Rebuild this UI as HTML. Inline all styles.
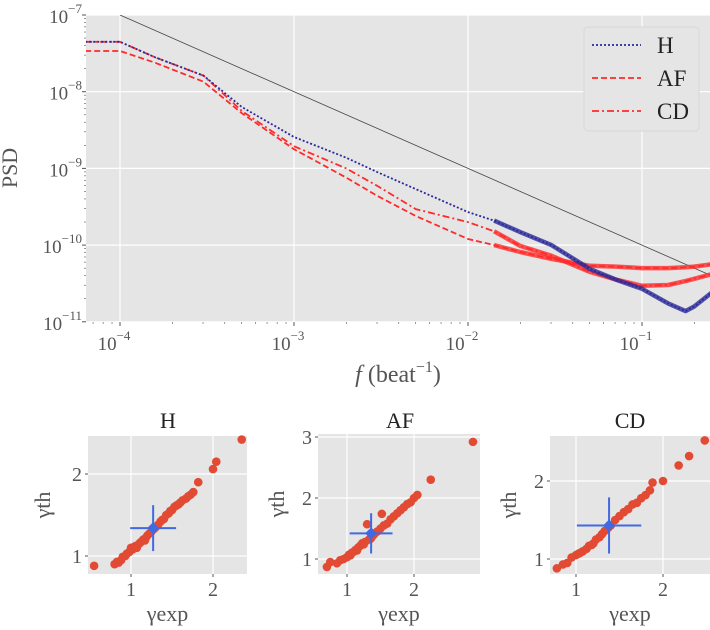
<!DOCTYPE html>
<html><head><meta charset="utf-8">
<style>
html,body{margin:0;padding:0;background:#fff;}
svg{display:block;font-family:"Liberation Serif",serif;}
</style></head>
<body>
<svg id="fig" width="710" height="630" viewBox="0 0 710 630" xmlns="http://www.w3.org/2000/svg"></svg>
<script>
// ---------- PSD data (log10 values) ----------
const freqLog = [-4.2,-4.0,-3.8,-3.52,-3.3,-3.0,-2.7,-2.52,-2.3,-2.0,-1.85,-1.7,-1.52,-1.3,-1.15,-1.0,-0.85,-0.75,-0.7,-0.6];
const psdH  = [-7.35,-7.35,-7.55,-7.79,-8.2,-8.59,-8.86,-9.05,-9.27,-9.57,-9.68,-9.83,-10.0,-10.31,-10.45,-10.57,-10.76,-10.86,-10.8,-10.62];
const psdAF = [-7.47,-7.47,-7.62,-7.87,-8.28,-8.75,-9.12,-9.36,-9.62,-9.92,-10.0,-10.09,-10.18,-10.27,-10.28,-10.3,-10.3,-10.29,-10.28,-10.25];
const psdCD = [-7.35,-7.35,-7.55,-7.79,-8.25,-8.71,-9.0,-9.23,-9.53,-9.70,-9.82,-10.01,-10.14,-10.35,-10.45,-10.53,-10.52,-10.47,-10.44,-10.38];
const refLineF = [-4.0,-0.6];
const refLineP = [-7.0,-10.4];
const yTickExp = [-7,-8,-9,-10,-11];
const xTickExp = [-4,-3,-2,-1];
const legendLabels = ['H','AF','CD'];

// ---------- scatter data ----------
const hX = [0.55,0.8,0.83,0.85,0.88,0.9,0.93,0.95,0.98,1.0,1.02,1.05,1.07,1.08,1.1,1.12,1.15,1.17,1.18,1.2,1.22,1.25,1.28,1.3,1.33,1.36,1.38,1.4,1.43,1.46,1.48,1.5,1.53,1.56,1.58,1.6,1.63,1.67,1.7,1.73,1.76,1.82,2.0,2.04,2.35];
const hY = [0.88,0.9,0.93,0.92,0.95,0.99,1.0,1.03,1.05,1.1,1.08,1.12,1.1,1.13,1.15,1.17,1.2,1.19,1.22,1.25,1.27,1.3,1.33,1.35,1.38,1.42,1.44,1.45,1.5,1.52,1.55,1.56,1.6,1.62,1.63,1.65,1.68,1.7,1.73,1.75,1.78,1.9,2.06,2.15,2.42];
const afX = [0.7,0.75,0.85,0.9,0.95,1.0,1.03,1.05,1.07,1.1,1.13,1.15,1.17,1.2,1.23,1.25,1.27,1.3,1.33,1.35,1.37,1.4,1.45,1.5,1.52,1.55,1.6,1.65,1.7,1.75,1.8,1.85,1.9,1.95,2.0,2.05,2.25,2.88];
const afY = [0.87,0.95,0.93,0.98,1.0,1.03,1.07,1.06,1.1,1.12,1.15,1.14,1.19,1.22,1.26,1.24,1.28,1.57,1.32,1.33,1.36,1.4,1.45,1.5,1.74,1.55,1.58,1.65,1.7,1.75,1.8,1.85,1.9,1.93,2.0,2.05,2.3,2.92];
const cdX = [0.78,0.85,0.9,0.95,1.0,1.03,1.05,1.08,1.12,1.15,1.18,1.2,1.23,1.27,1.3,1.33,1.37,1.4,1.45,1.5,1.55,1.6,1.65,1.7,1.75,1.8,1.85,1.88,2.0,2.18,2.3,2.48];
const cdY = [0.88,0.93,0.95,1.02,1.05,1.07,1.08,1.1,1.13,1.17,1.18,1.2,1.25,1.28,1.32,1.36,1.4,1.43,1.5,1.55,1.6,1.64,1.7,1.72,1.78,1.82,1.88,1.98,2.0,2.2,2.32,2.52];
const meanX = [1.27,1.36,1.38];
const meanY = [1.34,1.42,1.43];
const errX = [0.28,0.32,0.37];
const errY = [0.28,0.33,0.36];
const panelTitles = ['H','AF','CD'];

const NS='http://www.w3.org/2000/svg';
const svg=document.getElementById('fig');
function mk(tag,attrs,parent){const e=document.createElementNS(NS,tag);for(const k in attrs)e.setAttribute(k,attrs[k]);(parent||svg).appendChild(e);return e;}

// ---------- main plot ----------
const AX={l:86,r:710,t:15,b:322};
const xLog=v=>120+(v+4)*174;
const yLog=v=>15+(-7-v)*76.7;
const mainG=mk('g',{});


const bg=mk('rect',{x:AX.l,y:AX.t,width:AX.r-AX.l,height:AX.b-AX.t,fill:'#e5e5e5'},mainG);


const clip=mk('clipPath',{id:'mc'},mainG);
mk('rect',{x:AX.l,y:AX.t,width:AX.r-AX.l,height:AX.b-AX.t},clip);
yTickExp.forEach(e=>{
  const y=yLog(e);
  const g=mk('line',{x1:AX.l,x2:AX.r,y1:y,y2:y,stroke:'#fff','stroke-width':1.2},mainG);
  
  
  mk('line',{x1:AX.l-4,x2:AX.l,y1:y,y2:y,stroke:'#555'},mainG);
  const t=mk('text',{x:AX.l-4,y:y+8,'text-anchor':'end','font-size':19,fill:'#555'},mainG);
  
  
  t.textContent='10';
  const s=mk('tspan',{dy:-10,'font-size':13},t);s.textContent='\u2212'+(-e);
  if(e>-11)for(let k=2;k<10;k++){const ym=yLog(e-1+Math.log10(k));mk('line',{x1:AX.l-2,x2:AX.l,y1:ym,y2:ym,stroke:'#555','stroke-width':0.6},mainG);}
});
xTickExp.forEach(e=>{
  const x=xLog(e);
  const g=mk('line',{x1:x,x2:x,y1:AX.t,y2:AX.b,stroke:'#fff','stroke-width':1.2},mainG);
  
  
  mk('line',{x1:x,x2:x,y1:AX.b,y2:AX.b+4,stroke:'#555'},mainG);
  const t=mk('text',{x:x-6,y:AX.b+28,'text-anchor':'middle','font-size':19,fill:'#555'},mainG);
  
  
  t.textContent='10';
  const s=mk('tspan',{dy:-10,'font-size':13},t);s.textContent='\u2212'+(-e);
});
for(let e=-5;e<0;e++)for(let k=2;k<10;k++){const xm=xLog(e+Math.log10(k));if(xm>AX.l&&xm<AX.r)mk('line',{x1:xm,x2:xm,y1:AX.b,y2:AX.b+2,stroke:'#555','stroke-width':0.6},mainG);}

const plotG=mk('g',{'clip-path':'url(#mc)'},mainG);
const rl=mk('line',{x1:xLog(refLineF[0]),y1:yLog(refLineP[0]),x2:xLog(refLineF[1]),y2:yLog(refLineP[1]),stroke:'#444','stroke-width':0.8},plotG);


function series(vals,color,dash,name){
  const d=freqLog.map((f,i)=>(i?'L':'M')+xLog(f).toFixed(1)+','+yLog(vals[i]).toFixed(1)).join(' ');
  const idx=freqLog.findIndex(f=>f>=-1.85);
  const d2=freqLog.slice(idx).map((f,i)=>(i?'L':'M')+xLog(f).toFixed(1)+','+yLog(vals[idx+i]).toFixed(1)).join(' ');
  const b=mk('path',{d:d2,fill:'none',stroke:color,'stroke-width':4.5,'stroke-opacity':0.8,'stroke-linejoin':'round'},plotG);
  
  
  const p=mk('path',{d:d,fill:'none',stroke:color,'stroke-width':1.8,'stroke-dasharray':dash},plotG);
  
  
}
series(psdAF,'#ff2a2a','6,3','af');
series(psdCD,'#ff2a2a','7,3,2,3','cd');
series(psdH,'#2a2a9a','2,2','h');

const lg=mk('g',{},mainG);


mk('rect',{x:584,y:27,width:115,height:104,rx:4,fill:'#e5e5e5',stroke:'#d8d8d8'},lg);
const lc=['#2a2a9a','#ff2a2a','#ff2a2a'], ld=['2,2','6,3','7,3,2,3'];
legendLabels.forEach((lab,i)=>{
  const y=45+i*33;
  const e=mk('g',{},lg);
  
  
  mk('line',{x1:592,x2:641,y1:y,y2:y,stroke:lc[i],'stroke-width':1.8,'stroke-dasharray':ld[i]},e);
  const t=mk('text',{x:657,y:y+8,'font-size':23,fill:'#222'},e);t.textContent=lab;
});
const xl=mk('text',{x:398,y:382,'text-anchor':'middle','font-size':24,fill:'#555'},mainG);


xl.innerHTML='<tspan font-style="italic">f</tspan> (beat<tspan dy="-10" font-size="16">\u22121</tspan><tspan dy="10">)</tspan>';
const yl=mk('text',{x:0,y:0,'text-anchor':'middle','font-size':22,fill:'#555',transform:'translate(17,168) rotate(-90)'},mainG);


yl.textContent='PSD';

// ---------- scatter panels ----------
const panels=[
 {l:88,r:247,t:436,b:574,x1:131,x2:213,y1:556,y2:474,xs:hX,ys:hY,yt:[1,2],xt:[1,2],tx:168,ylx:50},
 {l:318,r:480,t:434,b:574,x1:347,x2:414,y1:559,y2:498,xs:afX,ys:afY,yt:[1,2,3],xt:[1,2],tx:400,ylx:284},
 {l:550,r:710,t:436,b:574,x1:576,x2:663,y1:559,y2:481,xs:cdX,ys:cdY,yt:[1,2],xt:[1,2],tx:630,ylx:516}
];
panels.forEach((P,pi)=>{
  const sx=v=>P.x1+(v-1)*(P.x2-P.x1);
  const sy=v=>P.y1-(v-1)*(P.y1-P.y2);
  const g=mk('g',{});
  
  
  mk('rect',{x:P.l,y:P.t,width:P.r-P.l,height:P.b-P.t,fill:'#e5e5e5'},g);
  P.xt.forEach(v=>{
    mk('line',{x1:sx(v),x2:sx(v),y1:P.t,y2:P.b,stroke:'#fff','stroke-width':1.2},g);
    mk('line',{x1:sx(v),x2:sx(v),y1:P.b,y2:P.b+3,stroke:'#555'},g);
    const t=mk('text',{x:sx(v),y:P.b+22,'text-anchor':'middle','font-size':20,fill:'#555'},g);
    
    
    t.textContent=v;
  });
  P.yt.forEach(v=>{
    mk('line',{x1:P.l,x2:P.r,y1:sy(v),y2:sy(v),stroke:'#fff','stroke-width':1.2},g);
    mk('line',{x1:P.l-3,x2:P.l,y1:sy(v),y2:sy(v),stroke:'#555'},g);
    const t=mk('text',{x:P.l-6,y:sy(v)+7,'text-anchor':'end','font-size':20,fill:'#555'},g);
    
    
    t.textContent=v;
  });
  P.xs.forEach((v,i)=>{
    const c=mk('circle',{cx:sx(v),cy:sy(P.ys[i]),r:4.3,fill:'#e24a33'},g);
    
    
  });
  const mx=sx(meanX[pi]),my=sy(meanY[pi]);
  const m=mk('g',{},g);
  
  
  mk('line',{x1:sx(meanX[pi]-errX[pi]),x2:sx(meanX[pi]+errX[pi]),y1:my,y2:my,stroke:'#4169e1','stroke-width':2},m);
  mk('line',{x1:mx,x2:mx,y1:sy(meanY[pi]-errY[pi]),y2:sy(meanY[pi]+errY[pi]),stroke:'#4169e1','stroke-width':2},m);
  mk('path',{d:`M${mx},${my-6}L${mx+6},${my}L${mx},${my+6}L${mx-6},${my}Z`,fill:'#4169e1'},m);
  const tt=mk('text',{x:P.tx,y:428,'text-anchor':'middle','font-size':22,fill:'#222'},g);
  
  
  tt.textContent=panelTitles[pi];
  const xt=mk('text',{x:(P.l+P.r)/2,y:621,'text-anchor':'middle','font-size':22,fill:'#555'},g);
  
  
  xt.textContent='\u03b3exp';
  const yt=mk('text',{x:0,y:0,'text-anchor':'middle','font-size':22,fill:'#555',transform:`translate(${P.ylx},${(P.t+P.b)/2}) rotate(-90)`},g);
  
  
  yt.textContent='\u03b3th';
});
</script>
</body></html>
